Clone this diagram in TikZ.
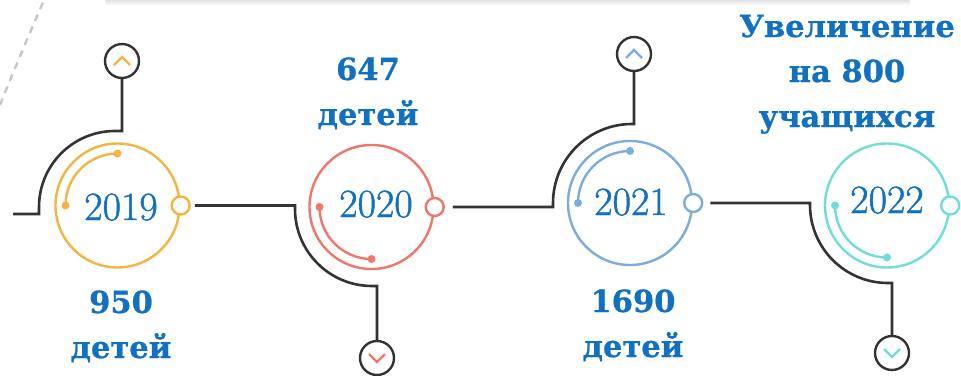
\documentclass[tikz,border=0pt]{standalone}
\usepackage{fontspec}
\usetikzlibrary{calc}
\newfontfamily\labfont{DejaVu Serif}[BoldFeatures={FakeBold=0.8}]
\newfontfamily\yrfont{Latin Modern Roman}[FakeBold=1.2]
\definecolor{corange}{RGB}{243,181,63}
\definecolor{cred}{RGB}{238,118,106}
\definecolor{cblue}{RGB}{122,172,222}
\definecolor{cteal}{RGB}{112,222,214}
\definecolor{cdark}{RGB}{51,51,51}
\definecolor{ctext}{RGB}{17,112,191}
\tikzset{
  yearring/.style={circle,draw=#1,line width=2.4pt,minimum size=124pt,inner sep=0pt},
  knob/.style={circle,draw=#1,fill=white,line width=2.4pt,minimum size=18pt,inner sep=0pt},
  iconring/.style={circle,draw=cdark,line width=2.4pt,minimum size=34pt,inner sep=0pt},
  yeartext/.style={text=ctext,font=\yrfont\fontsize{40}{40}\selectfont,anchor=base,inner sep=0pt},
  labtext/.style={text=ctext,font=\labfont\bfseries\fontsize{30.5}{45}\selectfont,align=center,anchor=base,inner sep=0pt},
  wire/.style={draw=cdark,line width=2.6pt},
  inarc/.style={draw=#1,line width=2.4pt},
  chev/.style={draw=#1,line width=2.4pt},
  dotmark/.style={fill=#1}
}
\begin{document}
\begin{tikzpicture}[x=1pt,y=-1pt]
\useasboundingbox (0,0) rectangle (961,375);
% background details
\shade[top color=black!14,bottom color=white] (105,-1) rectangle (910,5);
\draw[gray!45,line width=2.4pt,dash pattern=on 7pt off 6pt] (0,105) .. controls (14,70) and (29,35) .. (44,0);

% year rings
\node[yearring=corange] (c1) at (117.5,205.5) {};
\node[yearring=cred]    (c2) at (371.5,207) {};
\node[yearring=cblue]   (c3) at (630,203) {};
\node[yearring=cteal]   (c4) at (887,205.5) {};

% inner arcs with dots
\foreach \c/\col/\ea in {c1/corange/90,c2/cred/270,c3/cblue/90,c4/cteal/270}{
  \draw[inarc=\col] ($(\c.center)+(180:52pt)$) arc[start angle=180,end angle=\ea,radius=52pt];
  \fill[dotmark=\col] ($(\c.center)+(180:52pt)$) circle[radius=4pt];
  \fill[dotmark=\col] ($(\c.center)+(\ea:52pt)$) circle[radius=4pt];
}

% knobs
\node[knob=corange] (o1) at (c1.east) {};
\node[knob=cred]    (o2) at (c2.east) {};
\node[knob=cblue]   (o3) at (c3.east) {};
\node[knob=cteal]   (o4) at (c4.east) {};

% icons
\node[iconring] (i1) at (122,61) {};
\node[iconring] (i2) at (377,358) {};
\node[iconring] (i3) at (634,54) {};
\node[iconring] (i4) at (892,353) {};
\draw[chev=corange] ($(i1.center)+(-8,4)$) -- ($(i1.center)+(0,-4)$) -- ($(i1.center)+(8,4)$);
\draw[chev=cblue]   ($(i3.center)+(-8,4)$) -- ($(i3.center)+(0,-4)$) -- ($(i3.center)+(8,4)$);
\draw[chev=cred]    ($(i2.center)+(-8,-4)$) -- ($(i2.center)+(0,4)$) -- ($(i2.center)+(8,-4)$);
\draw[chev=cteal]   ($(i4.center)+(-8,-4)$) -- ($(i4.center)+(0,4)$) -- ($(i4.center)+(8,-4)$);

% wires
\coordinate (s0) at (13,214);
\draw[wire] (s0) -- (39,214) -- (39,207) arc[start angle=180,end angle=90,radius=76pt] -- (122,131) -- (i1.south);
\draw[wire] ([xshift=4pt]o1.east) -- (295,205.5) -- (295,209) arc[start angle=180,end angle=270,radius=77pt] -- (377,286) -- (i2.north);
\draw[wire] ([xshift=8pt]o2.east) -- (553,207) -- (553,203) arc[start angle=180,end angle=90,radius=79pt] -- (634,124) -- (i3.south);
\draw[wire] ([xshift=7pt]o3.east) -- (810,203) -- (810,205) arc[start angle=180,end angle=270,radius=78pt] -- (892,283) -- (i4.north);

% year texts
\node[yeartext] (t1) at (121,220) {2019};
\node[yeartext] (t2) at (376,217) {2020};
\node[yeartext] (t3) at (631,215) {2021};
\node[yeartext] (t4) at (887,213) {2022};

% labels (anchor = baseline of last line)
\node[labtext] (l1) at (121,358) {950\\детей};
\node[labtext] (l2) at (368,125) {647\\детей};
\node[labtext] (l3) at (633,357) {1690\\детей};
\node[labtext] (l4) at (847,127) {Увеличение\\на 800\\учащихся};
\end{tikzpicture}
\end{document}
